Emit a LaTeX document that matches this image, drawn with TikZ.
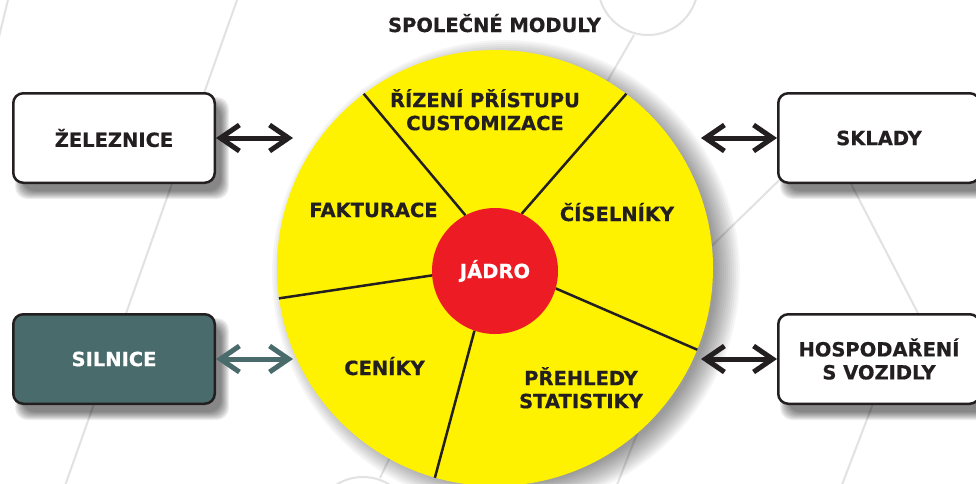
\documentclass[tikz,border=0pt]{standalone}
\usepackage{fontspec}
\setmainfont{DejaVu Sans}[BoldFeatures={FakeBold=0.6}]
\usetikzlibrary{arrows.meta}
\definecolor{ink}{HTML}{231F20}
\definecolor{slate}{HTML}{4A6B6B}
\definecolor{ylw}{HTML}{FFF200}
\definecolor{rd}{HTML}{ED1C24}
\definecolor{bgline}{HTML}{E2E2E2}
\newcommand\boxshade[2]{%
  \foreach \e in {5,4,...,-3}{%
    \fill[black, opacity=0.065, rounded corners=12pt]
      ({#1-94-(\e)},{#2-36-(\e)}) rectangle ({#1+110+(\e)},{#2+56+(\e)});}}
\begin{document}
\begin{tikzpicture}[x=1pt,y=-1pt,
  lbl/.style={font=\fontsize{19.5}{23}\selectfont\bfseries, text=ink, align=center, inner sep=0pt},
  box/.style={lbl, draw=ink, line width=2.5pt, rounded corners=10pt,
    minimum width=201.5pt, minimum height=89.5pt, fill=white},
  bg/.style={draw=bgline, line width=2pt},
  divline/.style={draw=ink, line width=2.5pt},
  biarrow/.style={draw=ink, line width=5pt, >={Straight Barb[length=19pt,width=26pt]}, <->}
]
\useasboundingbox (0,0) rectangle (976,483);
\fill[white] (0,0) rectangle (976,483);

% background network
\draw[bg] (9.2,-5) -- (-3,45);
\draw[bg] (238.8,-5) -- (63.5,490);
\draw[bg] (648,-15) circle (50pt);
\draw[bg] (634,35) -- (539,200);
\draw[bg] (800,160) -- (656,300);
\draw[bg] (818,120) -- (937,350);
\draw[bg] (882,380) -- (840,490);
\draw[bg] (658,380) -- (615,490);
\draw[bg] (363,527) circle (50pt);
\draw[bg] (380,478) -- (441,350);

% shadows
\foreach \e in {16,14,...,-8}{%
  \fill[black, opacity=0.035] (506,274) circle [radius={(218+(\e))*1pt}];}
\boxshade{114}{138}
\boxshade{879}{138}
\boxshade{114}{359}
\boxshade{879}{359}

% central modules
\node[circle, fill=ylw, minimum size=436pt, inner sep=0pt] (mods) at (495,268) {};
\node[circle, fill=rd, minimum size=126pt, inner sep=0pt, lbl, text=white] (core) at (495,271) {JÁDRO};
\draw[divline] (core.118) -- (mods.127);
\draw[divline] (core.65) -- (mods.53);
\draw[divline] (core.184) -- (mods.188);
\draw[divline] (core.251) -- (mods.254);
\draw[divline] (core.344) -- (mods.338);

\node[lbl, anchor=base] (title) at (494.5,32) {SPOLEČNÉ MODULY};
\node[lbl] (m1) at (485,109.75) {ŘÍZENÍ PŘÍSTUPU\\CUSTOMIZACE};
\node[lbl, anchor=base] (m2) at (373.5,217) {FAKTURACE};
\node[lbl, anchor=base] (m3) at (617,221) {ČÍSELNÍKY};
\node[lbl, anchor=base] (m4) at (384.5,375) {CENÍKY};
\node[lbl] (m5) at (581,387.75) {PŘEHLEDY\\STATISTIKY};

% side boxes
\node[box] (zel) at (114,138) {ŽELEZNICE};
\node[box] (skl) at (879,138) {SKLADY};
\node[box, fill=slate, text=white] (sil) at (114,359) {SILNICE};
\node[box] (hos) at (879,359) {HOSPODAŘENÍ\\S VOZIDLY};

\coordinate (zelTip) at (293,138);
\coordinate (silTip) at (293,359);
\coordinate (sklTip) at (701,138);
\coordinate (hosTip) at (701,359);

\draw[biarrow] (zel.east) -- (zelTip);
\draw[biarrow, draw=slate] (sil.east) -- (silTip);
\draw[biarrow] (sklTip) -- (skl.west);
\draw[biarrow] (hosTip) -- (hos.west);
\end{tikzpicture}
\end{document}
